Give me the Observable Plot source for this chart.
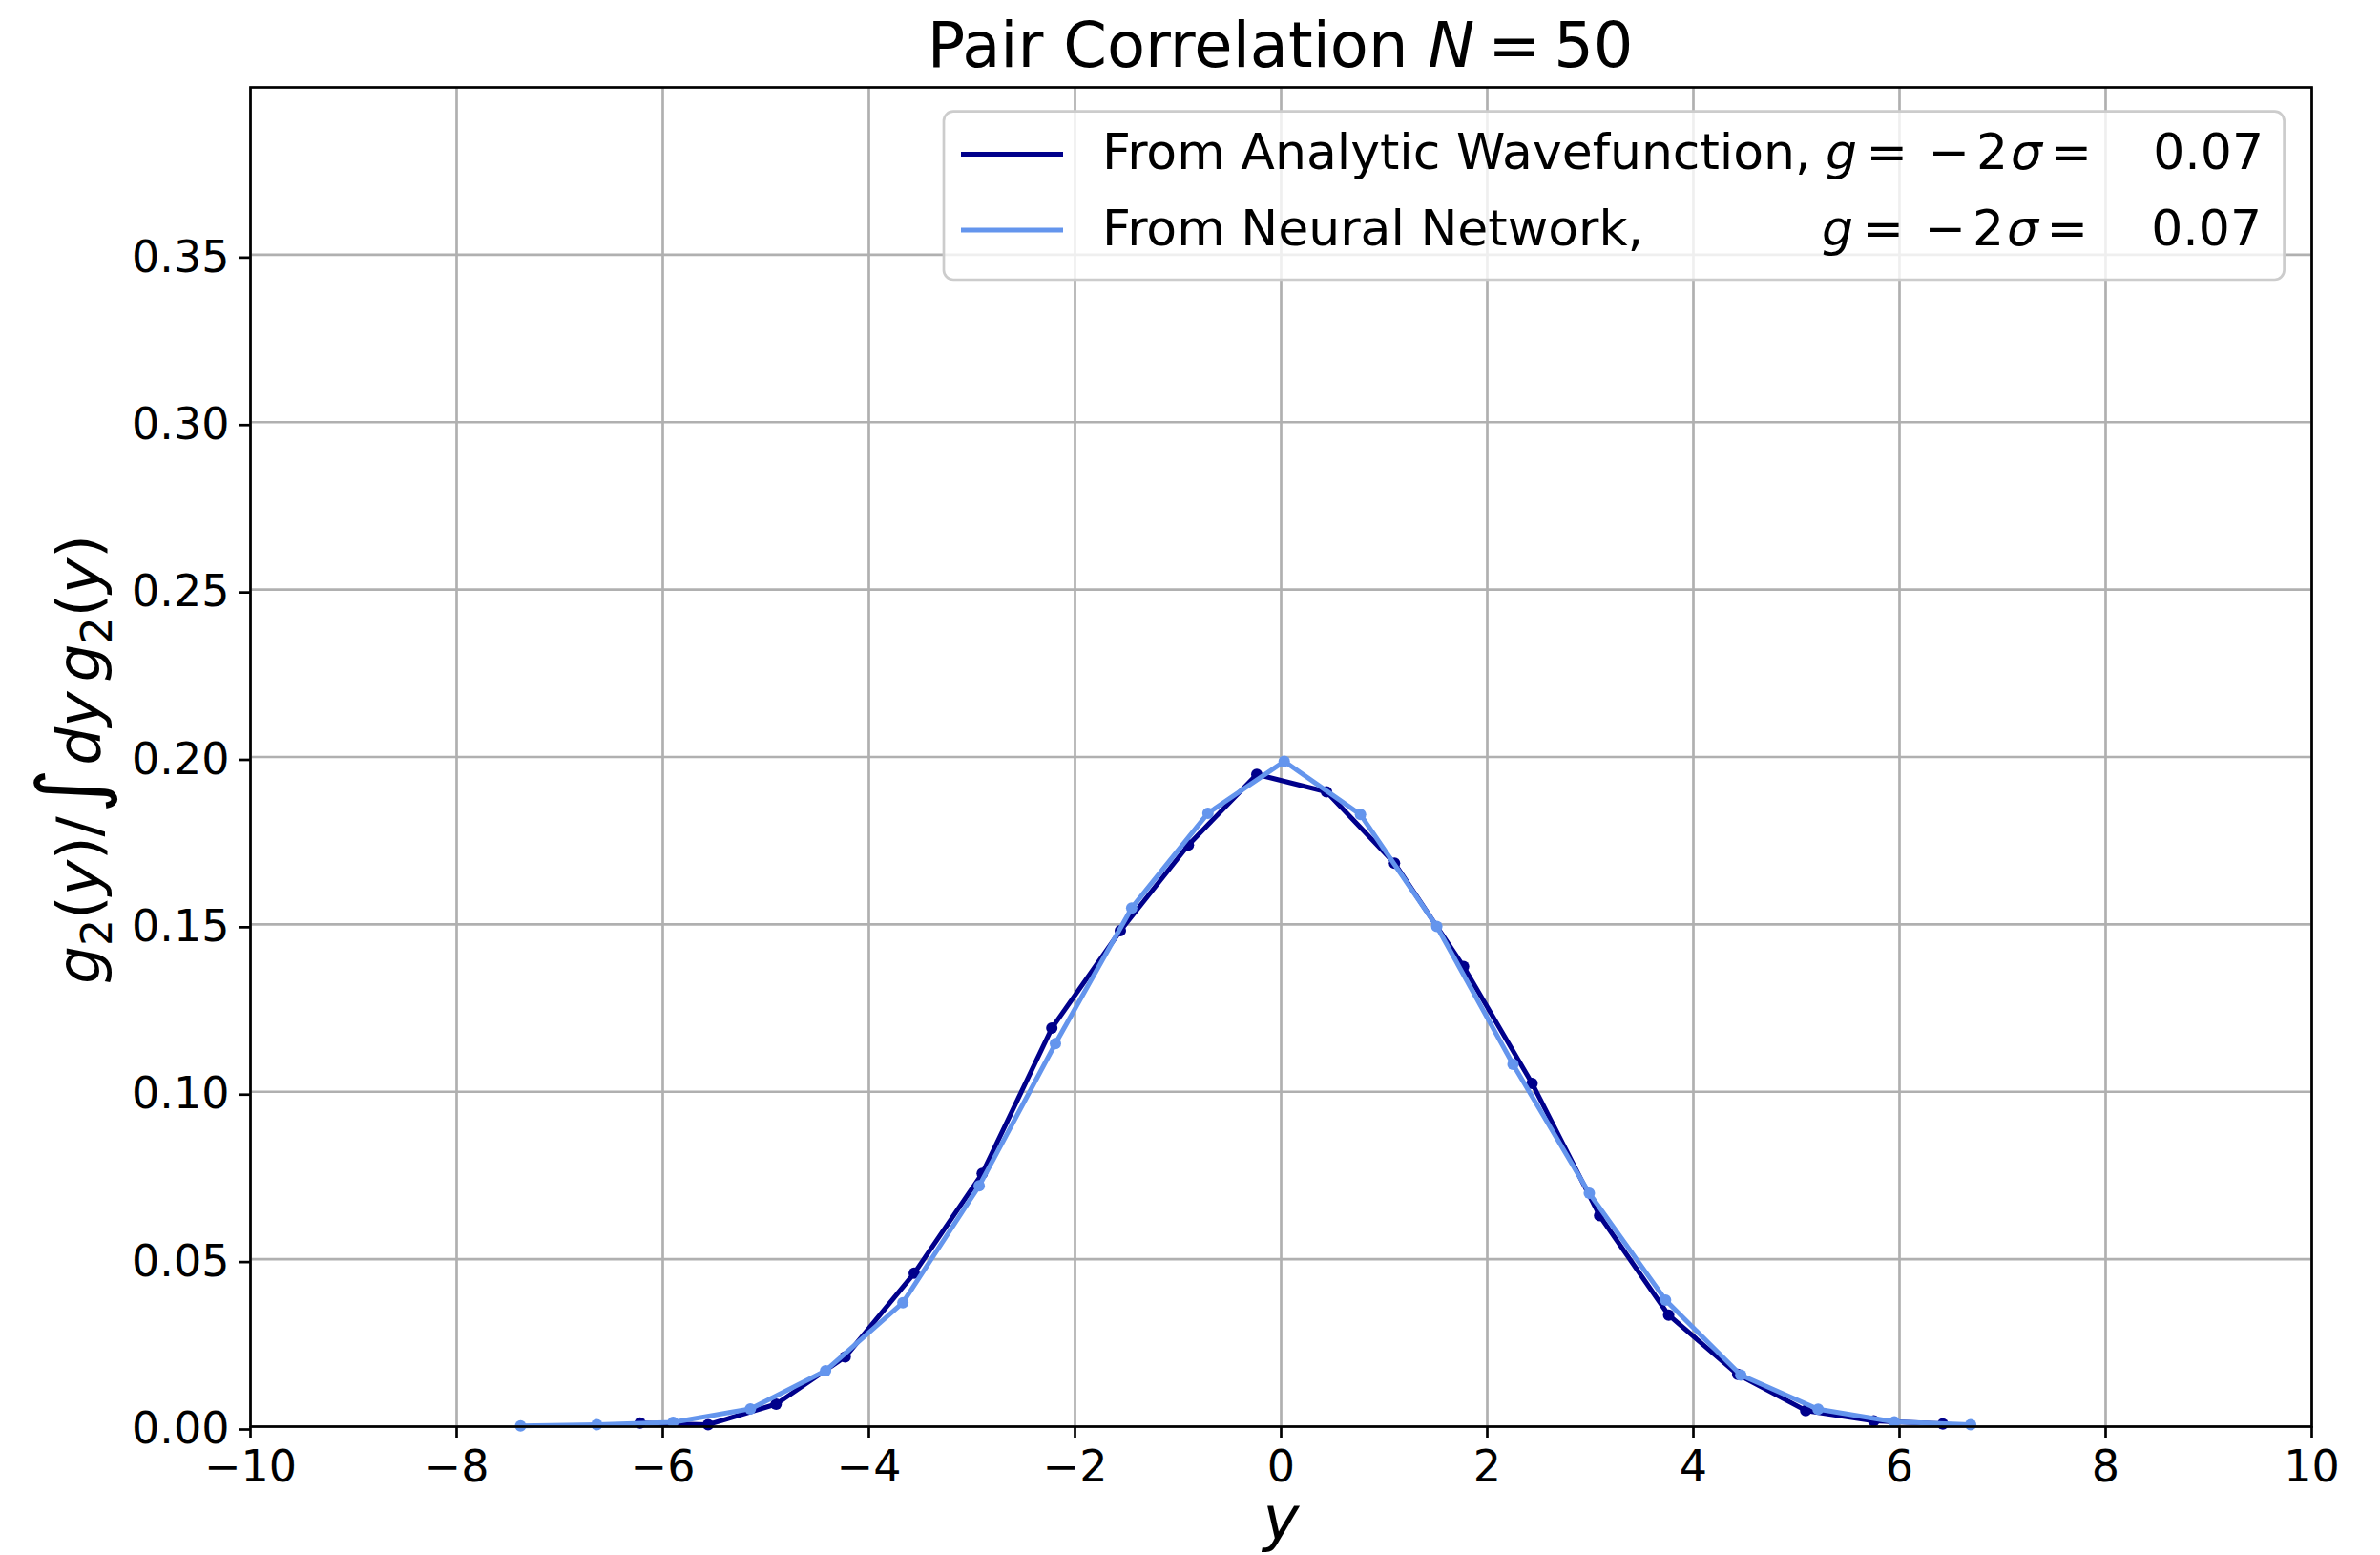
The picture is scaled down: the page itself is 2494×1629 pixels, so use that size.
<!DOCTYPE html>
<html>
<head>
<meta charset="utf-8">
<script src="https://cdn.jsdelivr.net/npm/d3@7"></script>
<script src="https://cdn.jsdelivr.net/npm/@observablehq/plot@0.6"></script>
<style>
  html, body { margin: 0; padding: 0; background: #fff; }
  #fig { position: relative; width: 2494px; height: 1629px; overflow: hidden; background: #fff; }
  #fig svg { position: absolute; left: 0; top: 0; }
</style>
</head>
<body>
<div id="fig"></div>
<script>
// Pair correlation g2(y), normalised, for N = 50 particles.
// Analytic wavefunction samples (dark blue)
const analyticY = [-6.22, -5.56, -4.90, -4.23, -3.56, -2.90, -2.225, -1.56, -0.90, -0.236,
                   0.44, 1.10, 1.77, 2.435, 3.09, 3.76, 4.43, 5.09, 5.75, 6.42];
const analyticG = [0.0011, 0.0006, 0.0067, 0.0208, 0.0458, 0.0756, 0.1190, 0.1481, 0.1737, 0.1948,
                   0.1896, 0.1683, 0.1374, 0.1025, 0.0630, 0.0333, 0.0156, 0.0048, 0.0017, 0.0008];
// Neural network samples (cornflower blue)
const networkY = [-7.38, -6.64, -5.90, -5.15, -4.42, -3.67, -2.93, -2.19, -1.45, -0.71,
                  0.03, 0.77, 1.51, 2.25, 2.99, 3.73, 4.46, 5.21, 5.95, 6.69];
const networkG = [0.0002, 0.0006, 0.0013, 0.0053, 0.0167, 0.0370, 0.0719, 0.1144, 0.1549, 0.1832,
                  0.1987, 0.1828, 0.1494, 0.1082, 0.0697, 0.0378, 0.0154, 0.0052, 0.0014, 0.0006];

const xTicks = [-10, -8, -6, -4, -2, 0, 2, 4, 6, 8, 10];
const yTicks = [0.00, 0.05, 0.10, 0.15, 0.20, 0.25, 0.30, 0.35];

const seriesNames = ["From Analytic Wavefunction,", "From Neural Network,"];
const seriesColors = ["#00008b", "#6495ed"];
const couplings = [0.07, 0.07];

const analytic = analyticY.map((y, i) => ({y, g: analyticG[i]}));
const network = networkY.map((y, i) => ({y, g: networkG[i]}));

const FONT = "'DejaVu Sans', sans-serif";
const fmtX = d => (d < 0 ? "\u2212" + Math.abs(d) : String(d));

const chart = Plot.plot({
  width: 2494,
  height: 1629,
  marginLeft: 262,
  marginRight: 72,
  marginTop: 91,
  marginBottom: 135,
  style: {fontFamily: FONT, fontSize: "46px", color: "#000", background: "#fff", overflow: "visible"},
  x: {domain: [-10, 10]},
  y: {domain: [0, 0.4]},
  marks: [
    Plot.gridX(xTicks, {stroke: "#b0b0b0", strokeOpacity: 1, strokeWidth: 2.7}),
    Plot.gridY(yTicks, {stroke: "#b0b0b0", strokeOpacity: 1, strokeWidth: 2.7}),
    Plot.line(analytic, {x: "y", y: "g", stroke: seriesColors[0], strokeWidth: 5}),
    Plot.dot(analytic, {x: "y", y: "g", r: 6, fill: seriesColors[0], stroke: null}),
    Plot.line(network, {x: "y", y: "g", stroke: seriesColors[1], strokeWidth: 5}),
    Plot.dot(network, {x: "y", y: "g", r: 6, fill: seriesColors[1], stroke: null}),
    Plot.frame({stroke: "#000", strokeWidth: 2.7}),
    Plot.axisX(xTicks, {tickSize: 12, tickPadding: 13, strokeWidth: 2.7, tickFormat: fmtX, label: null, fontSize: 46}),
    Plot.axisY(yTicks, {tickSize: 12, tickPadding: 10, strokeWidth: 2.7, tickFormat: d3.format(".2f"),
                        label: null, fontSize: 46, dy: 3}),
    Plot.text(["y"], {frameAnchor: "bottom", lineAnchor: "bottom", dy: 118, text: d => d,
                      fontStyle: "italic", fontSize: 64})
  ]
});

const fig = document.getElementById("fig");
fig.appendChild(chart);

// Title, y-axis label and legend drawn on top of the chart
const overlay = d3.create("svg")
  .attr("width", 2494).attr("height", 1629)
  .attr("font-family", FONT)
  .style("white-space", "pre");

// Title: Pair Correlation N = 50
const title = overlay.append("text")
  .attr("x", 1341.6).attr("y", 69.5).attr("text-anchor", "middle").attr("font-size", 65.5);
title.append("tspan").text("Pair Correlation ");
title.append("tspan").attr("font-style", "italic").text("N");
title.append("tspan").attr("dx", 14).text("=");
title.append("tspan").attr("dx", 14).text("50");

// Y label: g2(y) / ∫ dy g2(y)
const yl = overlay.append("text")
  .attr("transform", "translate(103.6,795.5) rotate(-90)")
  .attr("text-anchor", "middle").attr("font-size", 63);
function g2(sel, dx) {
  sel.append("tspan").attr("font-style", "italic").attr("dx", dx).text("g");
  sel.append("tspan").attr("font-size", 44).attr("dy", 13).text("2");
  sel.append("tspan").attr("dy", -13).text("(");
  sel.append("tspan").attr("font-style", "italic").text("y");
  sel.append("tspan").text(")");
}
g2(yl, 0);
yl.append("tspan").text("/");
yl.append("tspan").attr("font-size", 91).attr("dx", 3).text("\u222b");
yl.append("tspan").attr("font-style", "italic").attr("dx", 3).text("dy");
g2(yl, 10);

// Legend
overlay.append("rect")
  .attr("x", 989).attr("y", 116.7).attr("width", 1404.6).attr("height", 176.3).attr("rx", 10)
  .attr("fill", "#fff").attr("fill-opacity", 0.8)
  .attr("stroke", "#cccccc").attr("stroke-width", 2.7);

const rowHandleY = [161.5, 241];
const rowBase = [176.7, 256.7];
const rowShift = [0, -4];
const valueEnd = [2372, 2370];
// g = −2σ = : glyph start positions within a legend row
const exprParts = [
  {t: "g", x: 1913, italic: true},
  {t: "=", x: 1955.5},
  {t: "\u2212", x: 2020.5},
  {t: "2", x: 2071},
  {t: "\u03c3", x: 2107, italic: true},
  {t: "=", x: 2148.5}
];
seriesNames.forEach((name, i) => {
  overlay.append("line")
    .attr("x1", 1007).attr("x2", 1114).attr("y1", rowHandleY[i]).attr("y2", rowHandleY[i])
    .attr("stroke", seriesColors[i]).attr("stroke-width", 5);
  overlay.append("text").attr("x", 1155).attr("y", rowBase[i]).attr("font-size", 52).text(name);
  const ex = overlay.append("text").attr("y", rowBase[i]).attr("font-size", 52);
  exprParts.forEach(p => {
    ex.append("tspan").attr("x", p.x + rowShift[i])
      .attr("font-style", p.italic ? "italic" : null).text(p.t);
  });
  overlay.append("text").attr("x", valueEnd[i]).attr("y", rowBase[i]).attr("font-size", 52)
    .attr("text-anchor", "end").text(couplings[i].toFixed(2));
});

fig.appendChild(overlay.node());
</script>
</body>
</html>
